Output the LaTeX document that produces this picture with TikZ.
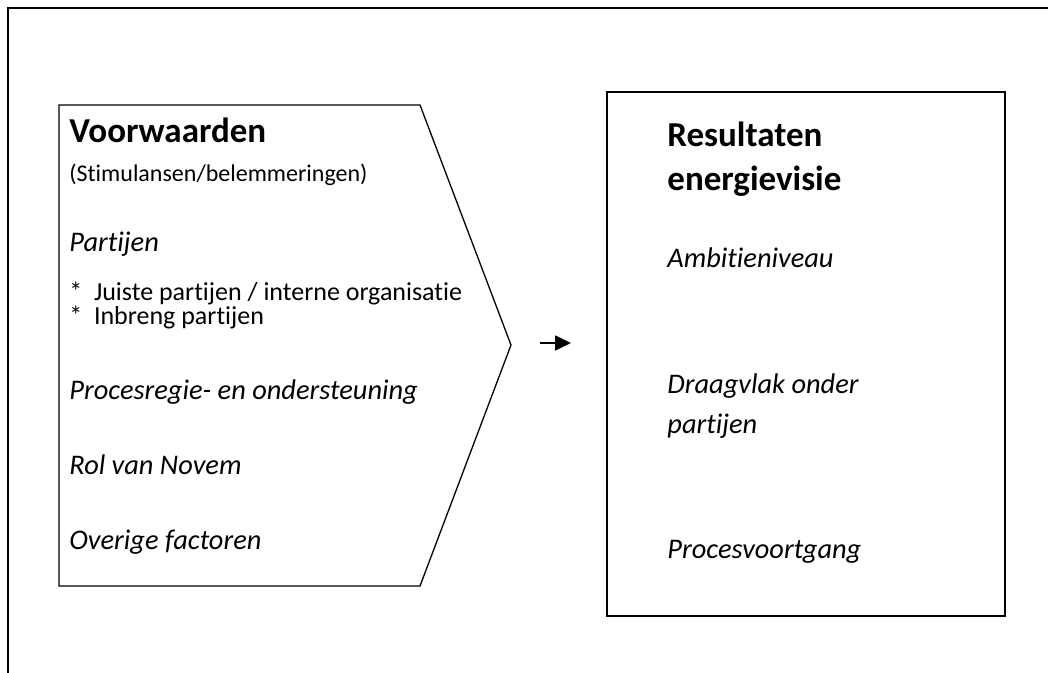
\documentclass[tikz,border=0pt]{standalone}
\usepackage{fontspec}
\setmainfont{Carlito}[Ligatures=NoCommon]
\usetikzlibrary{positioning,arrows.meta}
\newcommand{\kopfont}{\bfseries\fontsize{17.5}{20}\selectfont}
\newcommand{\subfont}{\fontsize{12}{14}\selectfont}
\newcommand{\sterfont}{\fontsize{13}{15}\selectfont}
\newcommand{\itemfont}{\itshape\fontsize{14.2}{17}\selectfont}
\tikzset{
  lijn/.style={line width=0.8pt},
  kop/.style={anchor=base west, inner sep=0pt, font=\kopfont},
  sub/.style={anchor=base west, inner sep=0pt, font=\subfont},
  ster/.style={anchor=base west, inner sep=0pt, font=\sterfont},
  punt/.style={anchor=base west, inner sep=0pt, font=\itemfont}
}
\begin{document}
\begin{tikzpicture}[x=0.5pt,y=-0.5pt]
\useasboundingbox (0,0) rectangle (1048,673);
% outer frame (open at right and bottom)
\draw[lijn] (8,673) -- (8,8) -- (1048,8);
% chevron: voorwaarden
\coordinate (vlb) at (59,586);
\coordinate (vlt) at (59,105);
\coordinate (vrt) at (420,105);
\coordinate (vtip) at (511,345);
\coordinate (vrb) at (420,586);
\draw[line width=0.65pt] (vlb) -- (vlt) -- (vrt) -- (vtip) -- (vrb) -- cycle;
% box: resultaten
\draw[lijn] (607,92) rectangle (1005,616);
% arrow in between
\coordinate (pijlA) at (540,343);
\coordinate (pijlB) at (571,343);
\draw[line width=0.8pt,-{Triangle[length=8pt,width=7.5pt]}] (pijlA) -- (pijlB);

\node[kop] (voorw) at (69,143) {Voorwaarden};
\node[sub] (stim) at (69,182) {(Stimulansen/belemmeringen)};
\node[punt] (partij) at (69,252) {Partijen};
\node[ster] (juist) at (69,300) {*\hspace{0.45em}Juiste partijen / interne organisatie};
\node[ster] (inbr) at (69,325) {*\hspace{0.45em}Inbreng partijen};
\foreach \tekst [count=\i] in {Procesregie- en ondersteuning, Rol van Novem, Overige factoren} {
  \node[punt] (left\i) at (69,324+75*\i) {\tekst};
}

\node[kop] (res) at (667,147) {Resultaten};
\node[kop] (envis) at (667,191) {energievisie};
\node[punt] (ambi) at (667,268) {Ambitieniveau};
\node[punt] (draag) at (667,393) {Draagvlak onder};
\node[punt] (draag2) at (667,433) {partijen};
\node[punt] (voortg) at (667,558) {Procesvoortgang};
\end{tikzpicture}
\end{document}
